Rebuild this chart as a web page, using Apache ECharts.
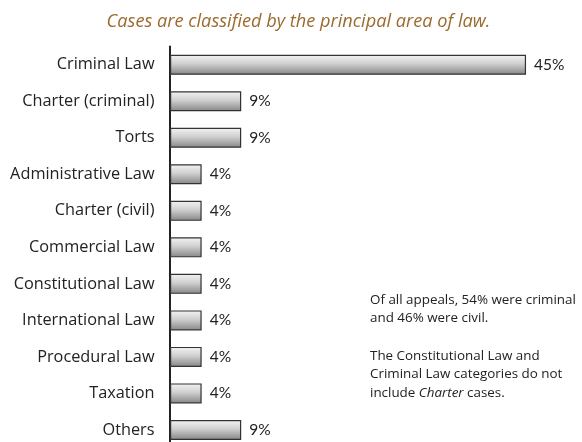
<!DOCTYPE html>
<html>
<head>
<meta charset="utf-8">
<script src="https://cdn.jsdelivr.net/npm/echarts@6/dist/echarts.min.js"></script>
<style>html,body{margin:0;padding:0;background:#fff;}#main{width:582px;height:442px;}</style>
</head>
<body>
<div id="main"></div>
<script>
const categories = ["Criminal Law","Charter (criminal)","Torts","Administrative Law","Charter (civil)","Commercial Law","Constitutional Law","International Law","Procedural Law","Taxation","Others"];
const values = [45, 9, 9, 4, 4, 4, 4, 4, 4, 4, 9];
const titleText = "Cases are classified by the principal area of law.";
const noteLines = ["Of all appeals, 54% were criminal", "and 46% were civil.", "", "The Constitutional Law and", "Criminal Law categories do not", "include {i|Charter} cases."];

const chart = echarts.init(document.getElementById('main'), null, {renderer: 'canvas'});
const FONT = '"Open Sans", Lato, sans-serif';
const VFONT = 'Lato, "Open Sans", sans-serif';
chart.setOption({
  animation: false,
  backgroundColor: '#ffffff',
  title: {
    text: titleText,
    left: 293.5, top: 8, textAlign: 'center',
    textStyle: {fontFamily: FONT, fontStyle: 'italic', fontWeight: 'normal', fontSize: 18.2, color: '#9c6a2e'}
  },
  grid: {left: 170, top: 46.5, width: 395.6, height: 401.7, containLabel: false, outerBoundsMode: 'none'},
  xAxis: {type: 'value', min: 0, max: 50, show: false},
  yAxis: {
    type: 'category', data: categories, inverse: true,
    axisLine: {show: true, lineStyle: {color: '#222', width: 2}},
    axisTick: {show: false},
    axisLabel: {margin: 15.5, fontFamily: FONT, fontSize: 16.3, color: '#222'},
    splitLine: {show: false}
  },
  series: [{
    type: 'bar', data: values, barWidth: 20,
    itemStyle: {
      color: new echarts.graphic.LinearGradient(0, 0, 0, 1, [
        {offset: 0, color: '#f4f4f4'},
        {offset: 0.45, color: '#cfcfcf'},
        {offset: 1, color: '#858585'}
      ]),
      borderColor: '#333', borderWidth: 1.2
    },
    label: {show: true, position: 'right', distance: 8, formatter: '{c}%', fontFamily: VFONT, fontSize: 15.5, color: '#222'}
  }],
  graphic: [{
    type: 'text', left: 370, top: 290.5,
    style: {
      text: noteLines.join('\n'),
      fontFamily: FONT, fontSize: 13.4, lineHeight: 18.7, fill: '#222',
      rich: {i: {fontStyle: 'italic', fontFamily: FONT, fontSize: 13.4, fill: '#222'}}
    }
  }]
});
</script>
</body>
</html>
